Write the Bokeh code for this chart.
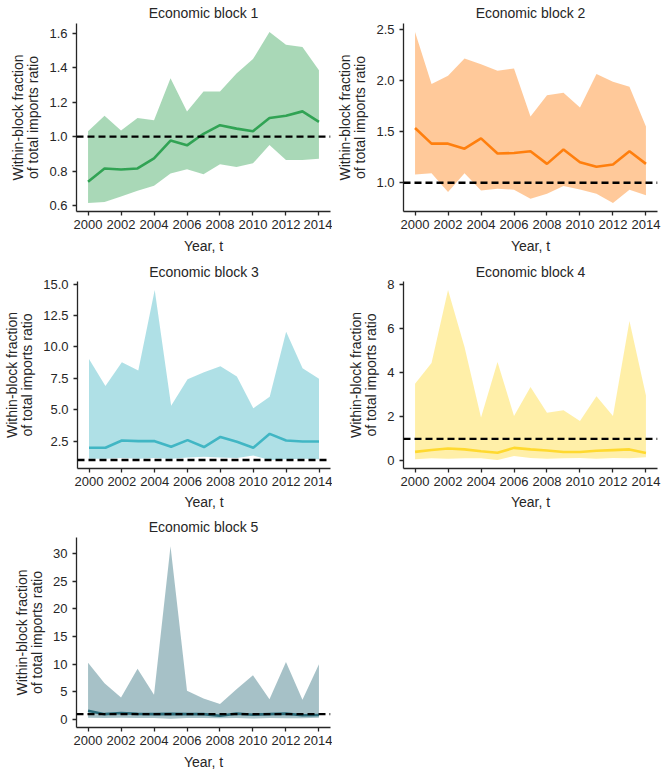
from bokeh.plotting import figure
from bokeh.models import Range1d, FixedTicker, PrintfTickFormatter, Span
from bokeh.layouts import column, row
from bokeh.embed import file_html
from bokeh.resources import INLINE

years = list(range(2000, 2015))
x_ticks = [2000, 2002, 2004, 2006, 2008, 2010, 2012, 2014]

titles = ["Economic block 1", "Economic block 2", "Economic block 3",
          "Economic block 4", "Economic block 5"]

block1_mean = [0.738, 0.815, 0.809, 0.815, 0.874, 0.977, 0.949, 1.016, 1.066, 1.046, 1.031, 1.108, 1.121, 1.146, 1.085]
block1_upper = [1.031, 1.121, 1.035, 1.108, 1.094, 1.338, 1.146, 1.261, 1.261, 1.366, 1.449, 1.606, 1.533, 1.520, 1.385]
block1_lower = [0.615, 0.621, 0.652, 0.686, 0.715, 0.786, 0.811, 0.782, 0.839, 0.824, 0.845, 0.951, 0.864, 0.864, 0.872]

block2_mean = [1.536, 1.383, 1.383, 1.334, 1.435, 1.286, 1.292, 1.308, 1.185, 1.325, 1.201, 1.156, 1.179, 1.308, 1.185]
block2_upper = [2.477, 1.968, 2.049, 2.218, 2.162, 2.097, 2.120, 1.649, 1.857, 1.883, 1.737, 2.065, 1.990, 1.942, 1.552]
block2_lower = [1.081, 1.094, 0.909, 1.094, 0.925, 0.942, 0.932, 0.844, 0.893, 0.968, 0.935, 0.893, 0.802, 0.932, 0.877]

block3_mean = [1.98, 1.98, 2.55, 2.50, 2.50, 2.06, 2.58, 2.03, 2.84, 2.45, 1.98, 3.08, 2.55, 2.47, 2.47]
block3_upper = [9.04, 6.89, 8.78, 8.12, 14.53, 5.32, 7.42, 7.99, 8.46, 7.65, 5.11, 6.03, 11.21, 8.31, 7.47]
block3_lower = [1.10, 1.10, 1.15, 1.10, 1.15, 1.10, 1.20, 1.25, 1.20, 1.15, 1.35, 1.00, 1.05, 1.10, 1.05]

block4_mean = [0.41, 0.49, 0.56, 0.52, 0.44, 0.37, 0.59, 0.52, 0.47, 0.40, 0.40, 0.46, 0.49, 0.52, 0.36]
block4_upper = [3.50, 4.44, 7.75, 5.16, 1.97, 4.49, 2.04, 3.35, 2.18, 2.30, 1.81, 2.93, 2.04, 6.34, 2.96]
block4_lower = [0.07, 0.12, 0.10, 0.12, 0.12, 0.04, 0.22, 0.13, 0.10, 0.12, 0.13, 0.10, 0.13, 0.12, 0.16]

block5_mean = [1.6, 1.0, 1.2, 1.05, 1.0, 1.05, 1.0, 1.0, 0.7, 1.1, 0.9, 1.0, 1.1, 0.8, 0.85]
block5_upper = [10.28, 6.57, 4.00, 9.20, 4.48, 31.30, 5.20, 3.83, 2.81, 5.50, 8.00, 3.70, 10.40, 3.59, 9.98]
block5_lower = [0.35, 0.30, 0.35, 0.30, 0.30, 0.15, 0.30, 0.30, 0.25, 0.30, 0.20, 0.30, 0.25, 0.25, 0.35]

block1_yticks = [0.6, 0.8, 1.0, 1.2, 1.4, 1.6]
block2_yticks = [1.0, 1.5, 2.0, 2.5]
block3_yticks = [2.5, 5.0, 7.5, 10.0, 12.5, 15.0]
block4_yticks = [0, 2, 4, 6, 8]
block5_yticks = [0, 5, 10, 15, 20, 25, 30]

reference_level = 1.0

colors = ["#31a354", "#ff7f0e", "#41b6c4", "#ffd92f", "#2b6b79"]

FONT = "Liberation Sans"
TXT = "#262626"


def make_panel(title, mean, lower, upper, color, yticks, fmt,
               width, height, left, right, top, bottom, standoff, xlab_standoff=6):
    lo = min(lower + [reference_level])
    hi = max(upper)
    pad = (hi - lo) * 0.05
    p = figure(width=width, height=height, output_backend="svg",
               toolbar_location=None,
               x_range=Range1d(1999.3, 2014.7),
               y_range=Range1d(lo - pad, hi + pad),
               min_border_left=left, min_border_right=right,
               min_border_top=top, min_border_bottom=bottom)
    p.outline_line_color = None
    p.xgrid.visible = False
    p.ygrid.visible = False
    p.background_fill_color = "white"
    p.border_fill_color = "white"

    p.title.text = title
    p.title.text_font = FONT
    p.title.text_font_size = "14px"
    p.title.text_font_style = "normal"
    p.title.text_color = TXT
    p.title.align = "center"
    p.title.standoff = standoff

    for ax in (p.xaxis[0], p.yaxis[0]):
        ax.axis_line_color = TXT
        ax.axis_line_width = 1.3
        ax.major_tick_line_color = TXT
        ax.major_tick_line_width = 1.3
        ax.major_tick_in = 0
        ax.major_tick_out = 4
        ax.minor_tick_line_color = None
        ax.major_label_text_font = FONT
        ax.major_label_text_font_size = "13px"
        ax.major_label_text_color = TXT
        ax.axis_label_text_font = FONT
        ax.axis_label_text_font_size = "14px"
        ax.axis_label_text_font_style = "normal"
        ax.axis_label_text_color = TXT

    p.xaxis.ticker = FixedTicker(ticks=x_ticks)
    p.xaxis.major_label_standoff = 4
    p.xaxis.axis_label = "Year, t"
    p.xaxis.axis_label_standoff = xlab_standoff
    p.yaxis.ticker = FixedTicker(ticks=yticks)
    p.yaxis.formatter = PrintfTickFormatter(format=fmt)
    p.yaxis.major_label_standoff = 5
    p.yaxis.axis_label = "Within-block fraction\nof total imports ratio"
    p.yaxis.axis_label_standoff = 5
    p.yaxis.axis_label_text_line_height = 0.95

    p.varea(x=years, y1=lower, y2=upper, fill_color=color, fill_alpha=0.42)
    p.line(x=years, y=mean, line_color=color, line_width=2.6)
    p.add_layout(Span(location=reference_level, dimension="width",
                      line_color="black", line_width=2.3, line_dash="7 4"))
    return p


p1 = make_panel(titles[0], block1_mean, block1_lower, block1_upper, colors[0],
                block1_yticks, "%.1f", 332, 260, 76, 2, 22, 49, 5)
p2 = make_panel(titles[1], block2_mean, block2_lower, block2_upper, colors[1],
                block2_yticks, "%.1f", 332, 260, 71, 7, 22, 49, 5)
p3 = make_panel(titles[2], block3_mean, block3_lower, block3_upper, colors[2],
                block3_yticks, "%.1f", 332, 252, 76, 2, 19, 44, 3, 5)
p4 = make_panel(titles[3], block4_mean, block4_lower, block4_upper, colors[3],
                block4_yticks, "%d", 332, 252, 71, 7, 20, 43, 3, 5)
p5 = make_panel(titles[4], block5_mean, block5_lower, block5_upper, colors[4],
                block5_yticks, "%d", 332, 261, 76, 2, 25, 46, 6)

layout = column(row(p1, p2), row(p3, p4), row(p5))

open("out.html", "w").write(file_html(layout, INLINE))
